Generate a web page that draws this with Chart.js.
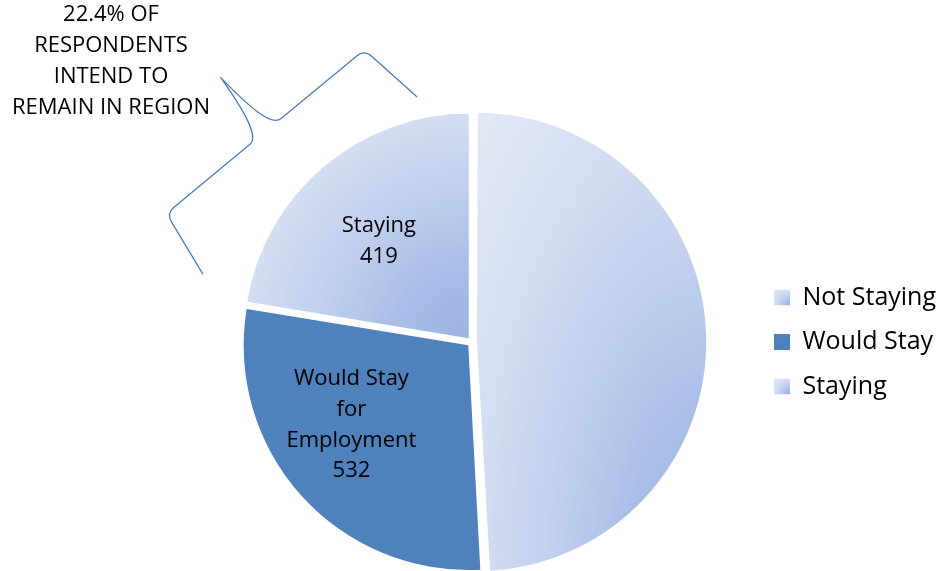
<!DOCTYPE html>
<html>
<head>
<meta charset="utf-8">
<script src="https://cdn.jsdelivr.net/npm/chart.js@4.4.1/dist/chart.umd.min.js"></script>
<style>
  html, body { margin: 0; padding: 0; background: #ffffff; overflow: hidden; }
  #wrap { position: relative; width: 939px; height: 580px; }
</style>
</head>
<body>
<div id="wrap"><canvas id="chart"></canvas></div>
<script>
// ---- data ----
const categories = ['Not Staying', 'Would Stay', 'Staying'];
const values = [919, 532, 419];
const sliceLabelLines = [[], ['Would Stay', 'for', 'Employment'], ['Staying']];
const calloutLines = ['22.4% OF', 'RESPONDENTS', 'INTEND TO', 'REMAIN IN REGION'];

// ---- styles ----
const FONT = '"Open Sans", "Noto Sans", "DejaVu Sans", sans-serif';
const baseColors = ['#c4d2ef', '#4f81bd', '#c4d2ef'];
const fillKinds = ['gradient', 'solid', 'gradient'];
const rampStops = [
  [0.00, [156, 179, 227]],
  [0.35, [169, 190, 231]],
  [0.70, [195, 209, 239]],
  [1.00, [212, 222, 242]],
  [1.42, [226, 232, 245]]
];
// label placement inside each slice: fraction of the angular span, fraction of the radius
const labelAngleFrac = [0.5, 0.574, 0.47];
const labelRadiusFrac = [0.6, 0.63, 0.59];
const LABEL_FONT_SIZE = 22;
const LABEL_LINE_HEIGHT = 30.7;
const LEGEND_FONT_SIZE = 25;
const LEGEND_BOX = 16;
const BRACE_COLOR = '#4a7ebb';

function rampColor(r) {
  if (r <= rampStops[0][0]) return rampStops[0][1];
  for (let i = 1; i < rampStops.length; i++) {
    const [p1, c1] = rampStops[i];
    const [p0, c0] = rampStops[i - 1];
    if (r <= p1) {
      const f = (r - p0) / (p1 - p0);
      return [0, 1, 2].map(k => Math.round(c0[k] + (c1[k] - c0[k]) * f));
    }
  }
  return rampStops[rampStops.length - 1][1];
}

function gradientCanvas(w, h) {
  const cw = Math.max(1, Math.ceil(w)), ch = Math.max(1, Math.ceil(h));
  const cv = document.createElement('canvas');
  cv.width = cw; cv.height = ch;
  const g = cv.getContext('2d');
  const img = g.createImageData(cw, ch);
  for (let y = 0; y < ch; y++) {
    for (let x = 0; x < cw; x++) {
      const dx = (cw - x) / cw, dy = (ch - y) / ch;
      const c = rampColor(Math.sqrt(dx * dx + dy * dy));
      const k = (y * cw + x) * 4;
      img.data[k] = c[0]; img.data[k + 1] = c[1]; img.data[k + 2] = c[2]; img.data[k + 3] = 255;
    }
  }
  g.putImageData(img, 0, 0);
  return cv;
}

function makePattern(ctx, x, y, w, h) {
  const pat = ctx.createPattern(gradientCanvas(w, h), 'no-repeat');
  pat.setTransform(new DOMMatrix([1, 0, 0, 1, x, y]));
  return pat;
}

function sectorBox(cx, cy, r, s, e) {
  const pts = [[cx, cy], [cx + r * Math.cos(s), cy + r * Math.sin(s)], [cx + r * Math.cos(e), cy + r * Math.sin(e)]];
  for (let k = -8; k <= 8; k++) {
    const a = k * Math.PI / 2;
    if (a > s && a < e) pts.push([cx + r * Math.cos(a), cy + r * Math.sin(a)]);
  }
  const xs = pts.map(p => p[0]), ys = pts.map(p => p[1]);
  return { x: Math.min(...xs), y: Math.min(...ys), w: Math.max(...xs) - Math.min(...xs), h: Math.max(...ys) - Math.min(...ys) };
}

const fillPlugin = {
  id: 'sliceFills',
  beforeDraw(chart) {
    const ctx = chart.ctx;
    const meta = chart.getDatasetMeta(0);
    meta.data.forEach((arc, i) => {
      if (fillKinds[i] !== 'gradient') return;
      const off = (arc.options.offset || 0) / 4;
      const circ = arc.endAngle - arc.startAngle;
      const rOff = off * (1 - Math.sin(Math.min(Math.PI, circ)));
      const b = sectorBox(arc.x, arc.y, arc.outerRadius + rOff, arc.startAngle, arc.endAngle);
      arc.options.backgroundColor = makePattern(ctx, b.x, b.y, b.w, b.h);
    });
    const legend = chart.legend;
    if (legend && legend.legendItems && legend.legendHitBoxes) {
      legend.legendItems.forEach((item, i) => {
        if (fillKinds[i] !== 'gradient') return;
        const hb = legend.legendHitBoxes[i];
        if (!hb) return;
        const top = hb.top + Math.max((LEGEND_FONT_SIZE - LEGEND_BOX) / 2, 0);
        item.fillStyle = makePattern(ctx, hb.left, top, LEGEND_BOX, LEGEND_BOX);
      });
    }
  }
};

const labelPlugin = {
  id: 'sliceLabels',
  afterDatasetsDraw(chart) {
    const ctx = chart.ctx;
    const meta = chart.getDatasetMeta(0);
    ctx.save();
    ctx.font = LABEL_FONT_SIZE + 'px ' + FONT;
    ctx.fillStyle = '#000000';
    ctx.textAlign = 'center';
    ctx.textBaseline = 'middle';
    meta.data.forEach((arc, i) => {
      const lines = sliceLabelLines[i];
      if (!lines || !lines.length) return;
      const all = lines.concat([String(values[i])]);
      const ang = arc.startAngle + (arc.endAngle - arc.startAngle) * labelAngleFrac[i];
      const mid = (arc.startAngle + arc.endAngle) / 2;
      const off = (arc.options.offset || 0) / 4;
      const rr = arc.outerRadius * labelRadiusFrac[i];
      const cx = arc.x + Math.cos(mid) * off + Math.cos(ang) * rr;
      const cy = arc.y + Math.sin(mid) * off + Math.sin(ang) * rr;
      all.forEach((s, k) => ctx.fillText(s, cx, cy + (k - (all.length - 1) / 2) * LABEL_LINE_HEIGHT));
    });
    ctx.restore();
  }
};

function bracePath(ctx) {
  ctx.beginPath();
  ctx.moveTo(-139, 0);
  ctx.lineTo(-130, 60);
  ctx.quadraticCurveTo(-128.5, 70, -119, 70);
  ctx.lineTo(-20, 70);
  ctx.bezierCurveTo(-8, 70, -3, 100, 0, 140);
  ctx.bezierCurveTo(3, 100, 8, 70, 20, 70);
  ctx.lineTo(119, 70);
  ctx.quadraticCurveTo(128.5, 70, 130, 60);
  ctx.lineTo(139, 0);
}

const calloutPlugin = {
  id: 'callout',
  afterDraw(chart) {
    const ctx = chart.ctx;
    ctx.save();
    ctx.font = '22px ' + FONT;
    ctx.fillStyle = '#000000';
    ctx.textAlign = 'center';
    ctx.textBaseline = 'middle';
    calloutLines.forEach((s, k) => ctx.fillText(s, 111, 14.5 + k * 31));
    ctx.restore();

    ctx.save();
    ctx.translate(310, 185.5);
    ctx.rotate(-39.6 * Math.PI / 180);
    ctx.scale(1, -1);
    bracePath(ctx);
    ctx.restore();
    ctx.save();
    ctx.strokeStyle = BRACE_COLOR;
    ctx.lineWidth = 1.3;
    ctx.lineJoin = 'round';
    ctx.stroke();
    ctx.restore();
  }
};

new Chart(document.getElementById('chart'), {
  type: 'pie',
  data: {
    labels: categories,
    datasets: [{
      data: values,
      backgroundColor: baseColors,
      borderWidth: 0,
      offset: 20,
      hoverOffset: 0
    }]
  },
  options: {
    responsive: true,
    maintainAspectRatio: false,
    animation: false,
    events: [],
    layout: { padding: { left: 189.5, right: 0, top: 107.5, bottom: 3.5 } },
    plugins: {
      legend: {
        position: 'right',
        maxWidth: 184.5,
        labels: {
          color: '#000000',
          font: { family: FONT, size: LEGEND_FONT_SIZE },
          boxWidth: LEGEND_BOX,
          boxHeight: LEGEND_BOX,
          padding: 19.5
        }
      },
      tooltip: { enabled: false }
    }
  },
  plugins: [fillPlugin, labelPlugin, calloutPlugin]
});
</script>
</body>
</html>
